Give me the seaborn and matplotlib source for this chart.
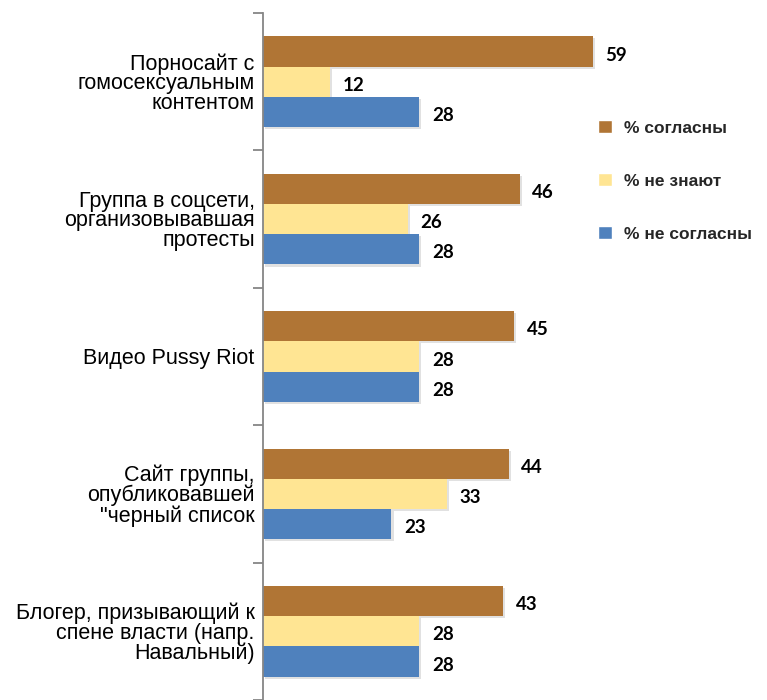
import pandas as pd
import matplotlib
matplotlib.use("Agg")
import matplotlib.pyplot as plt
import matplotlib.patheffects as pe
from matplotlib.ticker import FixedLocator
import seaborn as sns

# Data
categories = [
    "Порносайт с\nгомосексуальным\nконтентом",
    "Группа в соцсети,\nорганизовывавшая\nпротесты",
    "Видео Pussy Riot",
    "Сайт группы,\nопубликовавшей\n\"черный список",
    "Блогер, призывающий к\nспене власти (напр.\nНавальный)",
]
series = ["% согласны", "% не знают", "% не согласны"]
agree = [59, 46, 45, 44, 43]
dont_know = [12, 26, 28, 33, 28]
disagree = [28, 28, 28, 23, 28]
colors = ["#B07535", "#FFE593", "#4F81BD"]

df = pd.DataFrame({
    "Категория": categories * 3,
    "Ответ": [series[0]] * 5 + [series[1]] * 5 + [series[2]] * 5,
    "Процент": agree + dont_know + disagree,
})

sns.set_style("white")
plt.rcParams["font.family"] = ["Liberation Sans", "DejaVu Sans"]

fig = plt.figure(figsize=(7.67, 7.0), dpi=100)
ax = fig.add_axes([263 / 767, 0.0, 391 / 767, 687 / 700])

sns.barplot(
    data=df, y="Категория", x="Процент", hue="Ответ",
    hue_order=series, palette=colors, order=categories,
    orient="h", width=0.66, saturation=1, errorbar=None, ax=ax,
)

shadow = [pe.SimplePatchShadow(offset=(1.5, -1.5), shadow_rgbFace="#aaaaaa", alpha=0.35), pe.Normal()]
for cont in ax.containers:
    for bar in cont:
        bar.set_path_effects(shadow)
        bar.set_edgecolor("none")
    texts = ax.bar_label(cont, padding=9, fontsize=13.5, fontweight="bold", color="black",
                         family=["Lato", "DejaVu Sans"])
    for t in texts:
        t.set_va("center_baseline")
        t.xyann = (t.xyann[0], -1.5)

ax.set_xlim(0, 70)
ax.set_ylim(4.5, -0.5)
ax.set_xlabel("")
ax.set_ylabel("")
ax.set_xticks([])

# category labels at group centres, tick marks between groups
ax.tick_params(axis="y", which="major", left=False, length=0, pad=6, labelsize=15.5, labelcolor="black")
ax.yaxis.set_minor_locator(FixedLocator([-0.5, 0.5, 1.5, 2.5, 3.5, 4.5]))
ax.tick_params(axis="y", which="minor", left=True, length=7, width=1.3, color="#868686", direction="out")
for lbl in ax.get_yticklabels():
    lbl.set_multialignment("right")
    lbl.set_linespacing(0.92)

for s in ["top", "right", "bottom"]:
    ax.spines[s].set_visible(False)
ax.spines["left"].set_color("#868686")
ax.spines["left"].set_linewidth(1.3)

handles, labels = ax.get_legend_handles_labels()
ax.legend(
    handles, labels, loc="upper left", bbox_to_anchor=(598 / 767, 1 - 120 / 700),
    bbox_transform=fig.transFigure, frameon=False, handlelength=0.8, handleheight=0.8,
    handletextpad=0.7, labelspacing=2.15, borderpad=0, borderaxespad=0,
    prop={"weight": "bold", "size": 12.5},
)

fig.savefig("out.png", dpi=100)
